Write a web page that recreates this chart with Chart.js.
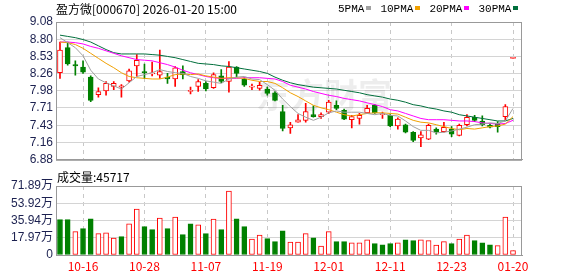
<!DOCTYPE html>
<html>
<head>
<meta charset="utf-8">
<script src="https://cdn.jsdelivr.net/npm/chart.js@4.4.1/dist/chart.umd.min.js"></script>
<style>
  body { margin: 0; background: #fff; }
  #wrap { position: relative; width: 578px; height: 276px; overflow: hidden; font-family: "Noto Sans CJK SC", sans-serif; }
  canvas { position: absolute; left: 0; }
  #title { position: absolute; left: 56px; top: 1px; font-size: 12px; line-height: 16px; color: #000; white-space: nowrap; }
  #legend { position: absolute; left: 338px; top: 1px; font: 11px "Liberation Mono", monospace; line-height: 16px; color: #000; white-space: nowrap; }
  #legend i { display: inline-block; width: 5px; height: 4px; margin: 0 9px 2px 2px; vertical-align: middle; }
  #vol { position: absolute; left: 57px; top: 169px; font-size: 12px; line-height: 16px; color: #000; white-space: nowrap; }
</style>
</head>
<body>
<div id="wrap">
  <canvas id="price" width="578" height="170" style="top:0"></canvas>
  <canvas id="volume" width="578" height="110" style="top:166px"></canvas>
  <div id="title">盈方微[000670] 2026-01-20 15:00</div>
  <div id="legend">5PMA<i style="background:#a0a0a0"></i>10PMA<i style="background:#f0a000"></i>20PMA<i style="background:#ff00ff"></i>30PMA<i style="background:#006f3c"></i></div>
  <div id="vol">成交量:45717</div>
</div>
<script>
// 日期（交易日）
const dates = ["10-13","10-14","10-15","10-16","10-17","10-20","10-21","10-22","10-23","10-24",
  "10-27","10-28","10-29","10-30","10-31","11-03","11-04","11-05","11-06","11-07",
  "11-10","11-11","11-12","11-13","11-14","11-17","11-18","11-19","11-20","11-21",
  "11-24","11-25","11-26","11-27","11-28","12-01","12-02","12-03","12-04","12-05",
  "12-08","12-09","12-10","12-11","12-12","12-15","12-16","12-17","12-18","12-19",
  "12-22","12-23","12-24","12-25","12-26","12-29","12-30","12-31","01-19","01-20"];
const tickIdx = [3, 11, 19, 27, 35, 43, 51, 59];

const opens = [8.27,8.67,8.40,8.36,8.20,7.92,7.98,8.05,8.04,8.14,
  8.38,8.29,8.25,8.23,8.20,8.17,8.29,7.97,8.05,8.10,
  8.03,8.22,8.13,8.36,8.17,8.04,8.02,8.01,7.95,7.65,
  7.39,7.48,7.51,7.60,7.57,7.64,7.75,7.67,7.52,7.54,
  7.63,7.75,7.60,7.59,7.42,7.44,7.32,7.23,7.21,7.37,
  7.33,7.37,7.27,7.44,7.56,7.50,7.43,7.46,7.57,8.50];
const closes = [8.63,8.41,8.38,8.28,7.83,7.97,8.10,8.10,8.06,8.30,
  8.47,8.27,8.27,8.29,8.17,8.35,8.24,7.99,8.13,8.01,
  8.24,8.13,8.36,8.26,8.07,8.05,8.07,7.94,7.83,7.38,
  7.44,7.52,7.65,7.57,7.60,7.80,7.70,7.53,7.57,7.59,
  7.70,7.63,7.61,7.42,7.53,7.32,7.19,7.28,7.43,7.32,
  7.40,7.29,7.43,7.56,7.51,7.44,7.40,7.41,7.73,8.50];
const highs = [8.76,8.76,8.46,8.46,8.22,8.03,8.13,8.13,8.08,8.33,
  8.56,8.41,8.44,8.63,8.26,8.37,8.38,8.04,8.16,8.13,
  8.27,8.32,8.45,8.37,8.19,8.09,8.12,8.04,7.97,7.75,
  7.48,7.60,7.78,7.74,7.63,7.83,7.82,7.69,7.59,7.62,
  7.75,7.76,7.64,7.60,7.55,7.45,7.33,7.33,7.45,7.39,
  7.48,7.41,7.45,7.60,7.59,7.58,7.45,7.49,7.76,8.50];
const lows = [8.18,8.39,8.23,8.26,7.81,7.88,7.91,8.00,7.88,8.12,
  8.21,8.18,8.22,8.18,8.10,8.05,8.17,7.93,7.97,7.98,
  8.02,8.11,7.96,8.20,8.05,8.00,7.99,7.91,7.82,7.34,
  7.30,7.48,7.48,7.56,7.54,7.62,7.68,7.52,7.39,7.45,
  7.62,7.62,7.54,7.41,7.37,7.31,7.17,7.09,7.20,7.29,
  7.32,7.25,7.26,7.42,7.49,7.42,7.39,7.32,7.51,8.50];

const ma5 = [8.83,8.75,8.67,8.54,8.31,8.17,8.11,8.06,8.01,8.11,
  8.21,8.24,8.27,8.32,8.29,8.27,8.26,8.21,8.18,8.14,
  8.12,8.10,8.17,8.20,8.21,8.17,8.16,8.08,7.99,7.85,
  7.73,7.62,7.56,7.51,7.56,7.63,7.66,7.64,7.64,7.64,
  7.62,7.60,7.62,7.59,7.58,7.50,7.41,7.35,7.35,7.31,
  7.32,7.34,7.37,7.40,7.44,7.45,7.47,7.46,7.50,7.70];
const ma10 = [8.76,8.75,8.72,8.66,8.58,8.50,8.42,8.35,8.27,8.21,
  8.19,8.18,8.17,8.17,8.20,8.24,8.25,8.24,8.25,8.22,
  8.20,8.18,8.19,8.19,8.18,8.15,8.13,8.13,8.10,8.03,
  7.95,7.89,7.82,7.75,7.71,7.68,7.64,7.60,7.58,7.60,
  7.62,7.63,7.63,7.62,7.61,7.56,7.51,7.48,7.47,7.44,
  7.41,7.38,7.36,7.38,7.37,7.39,7.41,7.42,7.45,7.57];
const ma20 = [8.76,8.76,8.75,8.73,8.69,8.66,8.62,8.58,8.54,8.51,
  8.48,8.47,8.46,8.43,8.40,8.36,8.31,8.27,8.24,8.21,
  8.19,8.18,8.18,8.18,8.19,8.19,8.19,8.18,8.17,8.13,
  8.07,8.04,8.01,7.97,7.94,7.91,7.89,7.86,7.84,7.82,
  7.79,7.76,7.73,7.68,7.66,7.62,7.58,7.54,7.52,7.52,
  7.52,7.51,7.50,7.50,7.49,7.47,7.46,7.45,7.46,7.51];
const ma30 = [8.87,8.85,8.83,8.80,8.76,8.70,8.64,8.59,8.57,8.57,
  8.57,8.57,8.56,8.55,8.53,8.51,8.48,8.45,8.42,8.41,
  8.40,8.38,8.37,8.35,8.33,8.31,8.29,8.26,8.20,8.15,
  8.11,8.08,8.06,8.04,8.03,8.02,8.01,7.99,7.97,7.95,
  7.92,7.90,7.88,7.85,7.83,7.80,7.76,7.74,7.71,7.69,
  7.66,7.64,7.60,7.58,7.56,7.54,7.52,7.50,7.50,7.54];

// 成交量（万）
const volumes = [36.8,36.8,24.3,27.4,37.8,22.2,23.2,17.7,19.1,32.6,
  47.9,29.5,26.4,38.5,27.4,39.6,21.2,32.6,31.5,22.2,
  37.5,26.4,66.7,37.8,29.5,16.7,20.8,17.0,13.9,25.3,
  13.5,13.5,22.2,18.0,9.4,24.3,13.9,13.9,12.8,12.8,
  15.9,11.8,10.7,11.8,12.8,15.9,14.9,15.9,14.9,10.4,
  13.9,11.8,16.7,20.8,14.9,12.8,10.7,9.7,39.6,4.5717];
const volUp = [0,0,1,0,0,1,1,1,0,1, 1,0,0,1,0,1,0,0,1,0,
  1,0,1,0,0,1,1,0,0,0, 1,1,1,0,1,1,0,0,1,1,
  1,0,0,0,1,0,0,1,1,1, 1,0,1,1,0,0,0,1,1,1];

const priceTicks = [6.88, 7.16, 7.43, 7.71, 7.98, 8.26, 8.53, 8.80, 9.08];
const volTicks = [0, 17.97, 35.94, 53.92, 71.89];

const RED = "#ff0000", GREEN = "#008000";
const tickColor = "#1c2150";
const up = closes.map((c, i) => c >= opens[i]);

// 边框
const frame = {
  id: "frame",
  afterDraw(chart) {
    const a = chart.chartArea, ctx = chart.ctx;
    ctx.save();
    ctx.strokeStyle = "#999";
    ctx.lineWidth = 1;
    ctx.strokeRect(a.left + 0.5, a.top + 0.5, a.right - a.left - 1, a.bottom - a.top);
    ctx.restore();
  }
};

// 水印
const watermark = {
  id: "watermark",
  beforeDatasetsDraw(chart) {
    const ctx = chart.ctx;
    ctx.save();
    ctx.font = 'bold 34px "Noto Sans CJK SC"';
    ctx.fillStyle = "rgba(0,0,0,0.07)";
    ctx.fillText("东方财富", 256, 108);
    ctx.restore();
  }
};

function xAxis(showLabels) {
  return {
    type: "linear", min: -0.52, max: 60.17, offset: false,
    afterBuildTicks: s => { s.ticks = tickIdx.map(v => ({ value: v })); },
    afterFit: s => { s.height = showLabels ? 21 : 0; },
    grid: { color: "#c8c8c8", drawTicks: false, offset: false },
    border: { color: "#999", dash: [4, 4] },
    ticks: showLabels
      ? { color: RED, font: { family: '"Noto Sans CJK SC"', size: 12 }, padding: 4,
          autoSkip: false, maxRotation: 0, callback: v => dates[v] }
      : { display: false }
  };
}

const common = {
  responsive: false,
  animation: false,
  events: [],
  plugins: { legend: { display: false }, tooltip: { enabled: false } }
};

function line(label, values, color) {
  return { type: "line", label, data: values.map((v, i) => ({ x: i, y: v })),
    borderColor: color, borderWidth: 1, pointRadius: 0, tension: 0, order: 0 };
}

new Chart(document.getElementById("price"), {
  type: "bar",
  data: {
    datasets: [
      line("5PMA", ma5, "#a0a0a0"),
      line("10PMA", ma10, "#f0a000"),
      line("20PMA", ma20, "#ff00ff"),
      line("30PMA", ma30, "#006f3c"),
      {
        label: "body",
        data: opens.map((o, i) => ({ x: i, y: [o, closes[i]] })),
        backgroundColor: up.map(u => u ? "#fff" : GREEN),
        borderColor: up.map(u => u ? RED : GREEN),
        borderWidth: 1, borderSkipped: false, barThickness: 5, minBarLength: 1,
        grouped: false, order: 1
      },
      {
        label: "wick",
        data: lows.map((l, i) => ({ x: i, y: [l, highs[i]] })),
        backgroundColor: up.map(u => u ? RED : GREEN),
        barThickness: 1, minBarLength: 1, grouped: false, order: 2
      }
    ]
  },
  options: {
    ...common,
    layout: { padding: { top: 22, right: 56, bottom: 5, left: 0 } },
    scales: {
      x: xAxis(false),
      y: {
        min: 6.88, max: 9.08,
        afterBuildTicks: s => { s.ticks = priceTicks.map(v => ({ value: v })); },
        afterFit: s => { s.width = 56; },
        grid: { color: "#d4d4d4", drawTicks: false },
        border: { color: "#999" },
        ticks: { color: tickColor, font: { family: '"Liberation Sans", Arial', size: 12 }, padding: 3,
          autoSkip: false, callback: v => v.toFixed(2) }
      }
    }
  },
  plugins: [watermark, frame]
});

new Chart(document.getElementById("volume"), {
  type: "bar",
  data: {
    datasets: [{
      label: "成交量",
      data: volumes.map((v, i) => ({ x: i, y: v })),
      backgroundColor: volUp.map(u => u ? "#fff" : GREEN),
      borderColor: volUp.map(u => u ? RED : GREEN),
      borderWidth: 1, borderSkipped: false, barThickness: 5, grouped: false
    }]
  },
  options: {
    ...common,
    layout: { padding: { top: 20, right: 56, bottom: 0, left: 0 } },
    scales: {
      x: xAxis(true),
      y: {
        min: 0, max: 71.89,
        afterBuildTicks: s => { s.ticks = volTicks.map(v => ({ value: v })); },
        afterFit: s => { s.width = 56; },
        grid: { color: "#d4d4d4", drawTicks: false },
        border: { color: "#999" },
        ticks: { color: tickColor, font: { family: '"Liberation Sans", "Noto Sans CJK SC"', size: 12 }, padding: 3,
          autoSkip: false, callback: v => v === 0 ? "0" : v.toFixed(2) + "万" }
      }
    }
  },
  plugins: [frame]
});
</script>
</body>
</html>
